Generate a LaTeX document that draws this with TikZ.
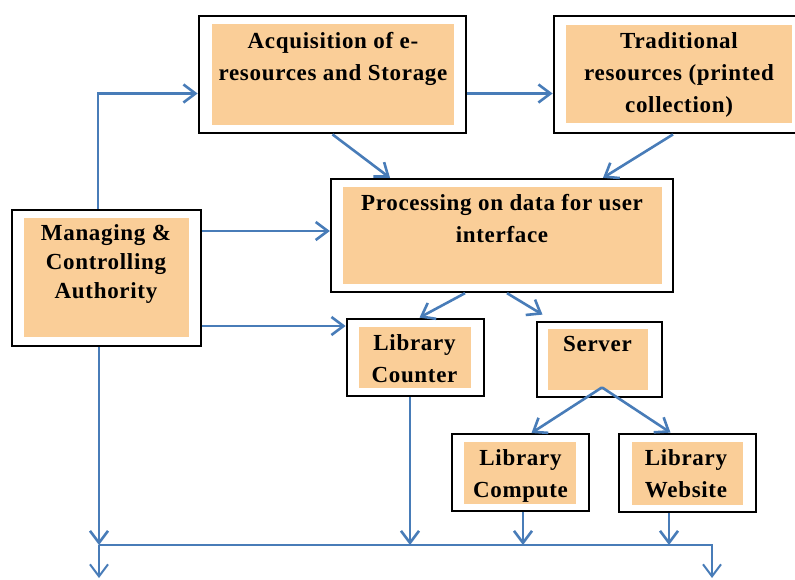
\documentclass[tikz,border=0pt]{standalone}
\usepackage{fontspec}
\newfontfamily\boxfont{Liberation Serif}[LetterSpace=3]
\definecolor{padorange}{RGB}{250, 206, 152}
\definecolor{flowblue}{RGB}{72, 124, 184}
\usetikzlibrary{arrows.meta, positioning, fit, calc}

\begin{document}
\begin{tikzpicture}[
  x=1pt, y=-1pt,
  frame/.style={draw=black, line width=2.8pt, inner sep=0pt},
  pad/.style={fill=padorange, inner sep=0pt},
  txt/.style={align=center, inner sep=0pt, font=\boxfont\bfseries\fontsize{23}{32}\selectfont},
  flow/.style={draw=flowblue, line width=2.6pt, -{Straight Barb[length=12pt, width=18pt]}}
]
  \useasboundingbox (0,0) rectangle (795,579);

  \node[frame, fit={(199,16) (466,133)}] (acq) {};
  \node[pad, fit={(212,24) (454,125)}] (acqpad) {};
  \node[txt] (acqtxt) at (333,58.7) {Acquisition of e-\\resources and Storage};

  \node[frame, fit={(554,16) (800,133)}] (trad) {};
  \node[pad, fit={(566,25) (792,123)}] (tradpad) {};
  \node[txt] (tradtxt) at (679,75) {Traditional\\resources (printed\\collection)};

  \node[frame, line width=2.3pt, fit={(331,179) (673,292)}] (proc) {};
  \node[pad, fit={(343,187) (662,284)}] (procpad) {};
  \node[txt] (proctxt) at (502,219) {Processing on data for user\\interface};

  \node[frame, fit={(12,210) (201,346)}] (mgr) {};
  \node[pad, fit={(24,218) (189,337)}] (mgrpad) {};
  \node[txt] (mgrtxt) at (106,264) {Managing \&\\[-3pt]Controlling\\[-3pt]Authority};

  \node[frame, fit={(347,319) (484,396)}] (counter) {};
  \node[pad, fit={(359,327) (471,388)}] (counterpad) {};
  \node[txt] (countertxt) at (414.5,359) {Library\\Counter};

  \node[frame, fit={(537,322) (662,397)}] (server) {};
  \node[pad, fit={(548,329) (648,390)}] (serverpad) {};
  \node[txt] (servertxt) at (597.5,344) {Server};

  \node[frame, line width=2pt, fit={(452,434) (589,511)}] (compute) {};
  \node[pad, fit={(464,442) (576,504)}] (computepad) {};
  \node[txt] (computetxt) at (520.5,475.7) {Library\\Compute};

  \node[frame, fit={(619,434) (756,512)}] (website) {};
  \node[pad, fit={(632,442) (743,505)}] (websitepad) {};
  \node[txt] (websitetxt) at (686,473.2) {Library\\Website};

  \coordinate (busL) at (99,545);
  \coordinate (busR) at (712,545);
  \coordinate (outL) at (99,578);
  \coordinate (outR) at (712,578);

  \draw[flow] ([xshift=-8.5pt]mgr.north) |- ([yshift=-19pt]acq.west);
  \draw[flow] ([yshift=-19pt]acq.east) -- ([yshift=-19pt]trad.west);
  \draw[flow] (acq.south) -- ([xshift=-112pt]proc.north);
  \draw[flow] ([xshift=-4pt]trad.south) -- ([xshift=101pt]proc.north);
  \draw[flow] ([yshift=47pt]mgr.east) coordinate (m1) -- (m1 -| proc.west);
  \draw[flow] ([yshift=-48pt]mgr.east) coordinate (m2) -- (m2 -| counter.west);
  \draw[flow] ([xshift=-37pt]proc.south) -- ([xshift=4pt]counter.north);
  \draw[flow] ([xshift=5pt]proc.south) -- ([shift={(-57pt,6pt)}]server.north);
  \draw[flow] ([shift={(2.5pt,11pt)}]server.south) -- ([xshift=11pt]compute.north);
  \draw[flow] ([shift={(2.5pt,11pt)}]server.south) -- ([xshift=-17pt]website.north);

  \draw[flow] ([xshift=-7.5pt]mgr.south) -- (busL);
  \draw[flow] ([xshift=-5.5pt]counter.south) coordinate (c1) -- (c1 |- busL);
  \draw[flow] ([xshift=2.5pt]compute.south) coordinate (c2) -- (c2 |- busL);
  \draw[flow] ([xshift=-18.5pt]website.south) coordinate (c3) -- (c3 |- busL);
  \draw[flow, line width=2pt] (busL) -- (busR) -- (outR);
  \draw[flow, line width=2pt] (busL) -- (outL);
\end{tikzpicture}
\end{document}
